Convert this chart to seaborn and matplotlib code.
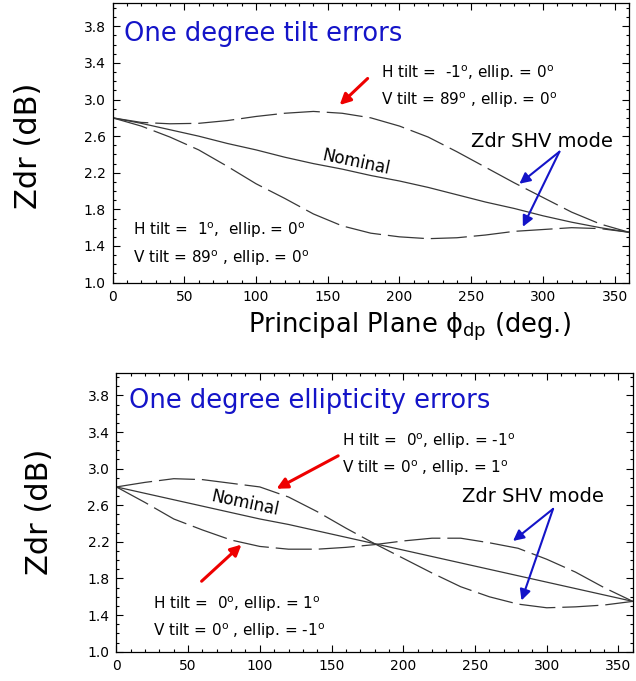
import matplotlib
matplotlib.use("Agg")
import matplotlib.pyplot as plt
from matplotlib.ticker import MultipleLocator, FormatStrFormatter
import pandas as pd
import seaborn as sns

# principal plane phi_dp (deg.) where the curves were read
phi = [0, 20, 40, 60, 80, 100, 120, 140, 160, 180,
       200, 220, 240, 260, 280, 300, 320, 340, 360]

# top panel: one degree tilt errors
tilt_nominal = [2.80, 2.74, 2.67, 2.60, 2.52, 2.45, 2.37, 2.30, 2.24, 2.17,
                2.11, 2.04, 1.96, 1.88, 1.81, 1.73, 1.66, 1.60, 1.55]
tilt_h_minus = [2.80, 2.75, 2.735, 2.74, 2.77, 2.815, 2.85, 2.87, 2.85, 2.80,
                2.71, 2.59, 2.43, 2.26, 2.09, 1.93, 1.77, 1.64, 1.55]
tilt_h_plus = [2.80, 2.71, 2.59, 2.45, 2.27, 2.08, 1.92, 1.75, 1.62, 1.54,
               1.50, 1.48, 1.49, 1.52, 1.56, 1.58, 1.60, 1.59, 1.55]

# bottom panel: one degree ellipticity errors
ellip_nominal = [2.80, 2.73, 2.66, 2.59, 2.52, 2.45, 2.39, 2.32, 2.25, 2.18,
                 2.11, 2.04, 1.97, 1.90, 1.83, 1.76, 1.69, 1.62, 1.55]
ellip_h_minus = [2.80, 2.85, 2.89, 2.88, 2.84, 2.80, 2.69, 2.53, 2.35, 2.18,
                 2.02, 1.86, 1.71, 1.60, 1.52, 1.48, 1.49, 1.51, 1.55]
ellip_h_plus = [2.80, 2.63, 2.45, 2.33, 2.22, 2.15, 2.12, 2.12, 2.14, 2.17,
                2.21, 2.24, 2.24, 2.19, 2.13, 2.01, 1.87, 1.70, 1.55]

x_ticks = [0, 50, 100, 150, 200, 250, 300, 350]
y_ticks = [1.0, 1.4, 1.8, 2.2, 2.6, 3.0, 3.4, 3.8]

BLUE = "#1414C8"
RED = "#EE0000"
LINE = "#383838"

sns.set_theme(style="ticks")
plt.rcParams["font.family"] = ["DejaVu Sans"]
plt.rcParams["mathtext.default"] = "regular"
plt.rcParams["lines.scale_dashes"] = False
plt.rcParams["text.color"] = "black"
plt.rcParams["axes.labelcolor"] = "black"


def draw_panel(ax, nominal, upper, lower):
    n = len(phi)
    df = pd.DataFrame({
        "phi": phi * 3,
        "zdr": nominal + upper + lower,
        "curve": ["nominal"] * n + ["upper"] * n + ["lower"] * n,
    })
    sns.lineplot(data=df, x="phi", y="zdr", style="curve",
                 dashes={"nominal": "", "upper": (26, 5), "lower": (26, 5)},
                 color=LINE, lw=0.9, errorbar=None, legend=False, ax=ax)
    ax.set_xlim(0, 360)
    ax.set_ylim(1.0, 4.05)
    ax.set_xticks(x_ticks)
    ax.set_yticks(y_ticks)
    ax.yaxis.set_major_formatter(FormatStrFormatter("%.1f"))
    ax.xaxis.set_minor_locator(MultipleLocator(10))
    ax.yaxis.set_minor_locator(MultipleLocator(0.1))
    ax.tick_params(which="both", direction="in", top=True, right=True,
                   labelsize=10, colors="black", pad=5)
    ax.tick_params(which="major", length=5, width=0.8)
    ax.tick_params(which="minor", length=2.5, width=0.8)
    for s in ax.spines.values():
        s.set_linewidth(0.9)
        s.set_color("black")
    ax.set_xlabel("")
    ax.set_ylabel("Zdr (dB)", fontsize=22)


def arrow(ax, head, tail, color, lw, scale):
    ax.annotate("", xy=head, xytext=tail,
                arrowprops=dict(arrowstyle="-|>", color=color, lw=lw,
                                mutation_scale=scale, shrinkA=0, shrinkB=0))


fig = plt.figure(figsize=(6.36, 6.81), dpi=100)
ax1 = fig.add_axes([0.177, 0.585, 0.812, 0.41])
ax2 = fig.add_axes([0.183, 0.043, 0.812, 0.41])

# ---- top panel
draw_panel(ax1, tilt_nominal, tilt_h_minus, tilt_h_plus)
ax1.set_xlabel(r"Principal Plane $\phi_{\rm dp}$ (deg.)", fontsize=18.5)
ax1.xaxis.set_label_coords(0.574, -0.1)
ax1.yaxis.set_label_coords(-0.135, 0.49)
ax1.text(8, 3.64, "One degree tilt errors", color=BLUE, fontsize=18.5)
ax1.text(187, 3.24, r"H tilt =  -1$^{o}$, ellip. = 0$^{o}$", fontsize=11)
ax1.text(187, 2.94, r"V tilt = 89$^{o}$ , ellip. = 0$^{o}$", fontsize=11)
ax1.text(14, 1.52, r"H tilt =  1$^{o}$,  ellip. = 0$^{o}$", fontsize=11)
ax1.text(14, 1.21, r"V tilt = 89$^{o}$ , ellip. = 0$^{o}$", fontsize=11)
ax1.text(250, 2.48, "Zdr SHV mode", fontsize=14)
ax1.text(170, 2.31, "Nominal", fontsize=12, rotation=-12,
         ha="center", va="center")
arrow(ax1, (158.3, 2.94), (177.8, 3.23), RED, 2.2, 16)
arrow(ax1, (283.6, 2.08), (311.5, 2.43), BLUE, 1.5, 16)
arrow(ax1, (286, 1.61), (311.5, 2.43), BLUE, 1.5, 16)

# ---- bottom panel
draw_panel(ax2, ellip_nominal, ellip_h_minus, ellip_h_plus)
ax2.yaxis.set_label_coords(-0.12, 0.5)
ax2.text(8.7, 3.66, "One degree ellipticity errors", color=BLUE, fontsize=18.5)
ax2.text(157, 3.25, r"H tilt =  0$^{o}$, ellip. = -1$^{o}$", fontsize=11)
ax2.text(157, 2.95, r"V tilt = 0$^{o}$ , ellip. = 1$^{o}$", fontsize=11)
ax2.text(25.7, 1.47, r"H tilt =  0$^{o}$, ellip. = 1$^{o}$", fontsize=11)
ax2.text(25.7, 1.17, r"V tilt = 0$^{o}$ , ellip. = -1$^{o}$", fontsize=11)
ax2.text(241, 2.64, "Zdr SHV mode", fontsize=14)
ax2.text(90, 2.62, "Nominal", fontsize=12, rotation=-12,
         ha="center", va="center")
arrow(ax2, (111.6, 2.78), (154.6, 3.14), RED, 2.2, 16)
arrow(ax2, (87.2, 2.17), (59.4, 1.77), RED, 2.2, 16)
arrow(ax2, (276.5, 2.21), (304.4, 2.56), BLUE, 1.5, 16)
arrow(ax2, (282.4, 1.56), (304.4, 2.56), BLUE, 1.5, 16)

fig.savefig("out.png", dpi=100)
